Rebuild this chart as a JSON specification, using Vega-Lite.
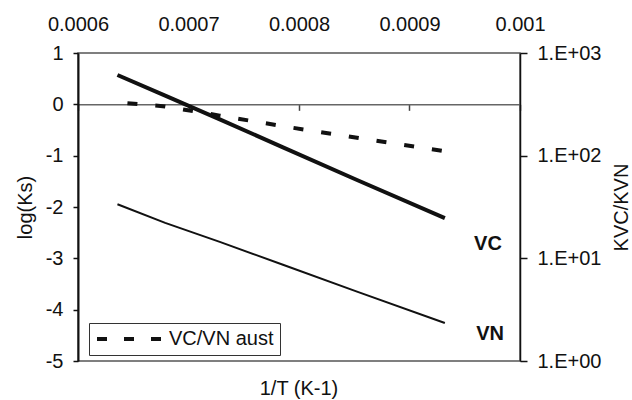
{
  "$schema": "https://vega.github.io/schema/vega-lite/v6.json",
  "width": 442,
  "height": 308,
  "autosize": {"type": "none"},
  "padding": {"left": 78, "top": 53, "right": 112, "bottom": 39},
  "background": "white",
  "config": {
    "font": "Liberation Sans",
    "view": {"stroke": "#555", "strokeWidth": 1.5},
    "axis": {
      "labelFont": "Liberation Sans",
      "titleFont": "Liberation Sans",
      "labelFontSize": 20,
      "titleFontSize": 20,
      "titleFontWeight": "normal",
      "labelColor": "#111",
      "titleColor": "#111",
      "labelFlush": false,
      "labelOverlap": false,
      "grid": false
    }
  },
  "title": {
    "text": "1/T (K-1)",
    "orient": "bottom",
    "frame": "group",
    "offset": 8,
    "font": "Liberation Sans",
    "fontSize": 20,
    "fontWeight": "normal",
    "color": "#111"
  },
  "datasets": {
    "ks": [
      {"invT": 0.0006357, "series": "VC", "logKs": 0.571},
      {"invT": 0.0006789, "series": "VC", "logKs": 0.170},
      {"invT": 0.0007283, "series": "VC", "logKs": -0.292},
      {"invT": 0.0007855, "series": "VC", "logKs": -0.839},
      {"invT": 0.0008525, "series": "VC", "logKs": -1.474},
      {"invT": 0.000932, "series": "VC", "logKs": -2.216},
      {"invT": 0.0006357, "series": "VN", "logKs": -1.947},
      {"invT": 0.0006789, "series": "VN", "logKs": -2.31},
      {"invT": 0.0007283, "series": "VN", "logKs": -2.68},
      {"invT": 0.0007855, "series": "VN", "logKs": -3.126},
      {"invT": 0.0008525, "series": "VN", "logKs": -3.648},
      {"invT": 0.000932, "series": "VN", "logKs": -4.26}
    ],
    "ratio": [
      {"invT": 0.0006357, "series": "VC/VN aust", "ratio": 329.6},
      {"invT": 0.0006789, "series": "VC/VN aust", "ratio": 302},
      {"invT": 0.0007283, "series": "VC/VN aust", "ratio": 245.5},
      {"invT": 0.0007855, "series": "VC/VN aust", "ratio": 193.6},
      {"invT": 0.0008525, "series": "VC/VN aust", "ratio": 149.3},
      {"invT": 0.000932, "series": "VC/VN aust", "ratio": 110.7}
    ],
    "labels": [
      {"invT": 0.000971, "logKs": -2.73, "label": "VC"},
      {"invT": 0.000973, "logKs": -4.474, "label": "VN"}
    ]
  },
  "layer": [
    {
      "data": {"name": "ks"},
      "mark": {"type": "line", "strokeCap": "butt"},
      "encoding": {
        "x": {
          "field": "invT",
          "type": "quantitative",
          "scale": {"domain": [0.0006, 0.001], "nice": false, "zero": false},
          "axis": {
            "orient": "top",
            "values": [0.0006, 0.0007, 0.0008, 0.0009, 0.001],
            "format": "~g",
            "ticks": false,
            "tickSize": 0,
            "domain": false,
            "labelPadding": 19,
            "title": null
          }
        },
        "y": {
          "field": "logKs",
          "type": "quantitative",
          "scale": {"domain": [-5, 1], "nice": false, "zero": false},
          "axis": {
            "orient": "left",
            "values": [-5, -4, -3, -2, -1, 0, 1],
            "labelExpr": "datum.value < 0 ? '-' + abs(datum.value) : '' + datum.value",
            "title": "log(Ks)",
            "domainColor": "#111",
            "domainWidth": 2,
            "tickColor": "#111",
            "tickSize": 5,
            "tickWidth": 1.5,
            "labelPadding": 10,
            "titlePadding": 10
          }
        },
        "detail": {"field": "series"},
        "strokeWidth": {
          "field": "series",
          "type": "nominal",
          "scale": {"domain": ["VC", "VN"], "range": [4, 2]},
          "legend": null
        },
        "color": {"value": "#111"}
      }
    },
    {
      "data": {"name": "labels"},
      "mark": {"type": "text", "font": "Liberation Sans", "fontWeight": "bold", "fontSize": 20, "color": "#111"},
      "encoding": {
        "x": {"field": "invT", "type": "quantitative", "axis": null},
        "y": {"field": "logKs", "type": "quantitative", "scale": {"domain": [-5, 1], "nice": false, "zero": false}, "axis": null},
        "text": {"field": "label"}
      }
    },
    {
      "data": {"name": "ratio"},
      "mark": {"type": "line", "strokeDash": [10, 18], "strokeDashOffset": 18, "strokeWidth": 4, "strokeCap": "butt"},
      "encoding": {
        "x": {
          "field": "invT",
          "type": "quantitative",
          "axis": {
            "orient": "bottom",
            "offset": -256.67,
            "values": [0.0006, 0.0007, 0.0008, 0.0009, 0.001],
            "labels": false,
            "title": null,
            "domainColor": "#666",
            "domainWidth": 1.5,
            "tickColor": "#444",
            "tickSize": 6,
            "tickWidth": 1.5
          }
        },
        "y": {
          "field": "ratio",
          "type": "quantitative",
          "scale": {"type": "log", "domain": [1, 1000], "nice": false},
          "axis": {
            "orient": "right",
            "values": [1, 10, 100, 1000],
            "labelExpr": "'1.E+0' + format(log(datum.value) / LN10, '.0f')",
            "title": "KVC/KVN",
            "titleAngle": 270,
            "titlePadding": 31,
            "domainColor": "#111",
            "domainWidth": 1.5,
            "tickColor": "#111",
            "tickSize": 7,
            "tickWidth": 1.5,
            "labelPadding": 10
          }
        },
        "color": {
          "field": "series",
          "type": "nominal",
          "scale": {"range": ["#111"]},
          "legend": {
            "orient": "none",
            "legendX": 11,
            "legendY": 270,
            "title": null,
            "symbolType": "stroke",
            "symbolDash": [10, 17],
            "symbolStrokeWidth": 4,
            "symbolSize": 4096,
            "symbolStrokeColor": "#111",
            "clipHeight": 20,
            "labelFont": "Liberation Sans",
            "labelFontSize": 20,
            "labelColor": "#111",
            "labelOffset": 6,
            "strokeColor": "#333",
            "padding": 6
          }
        }
      }
    }
  ],
  "resolve": {"scale": {"y": "independent"}}
}
